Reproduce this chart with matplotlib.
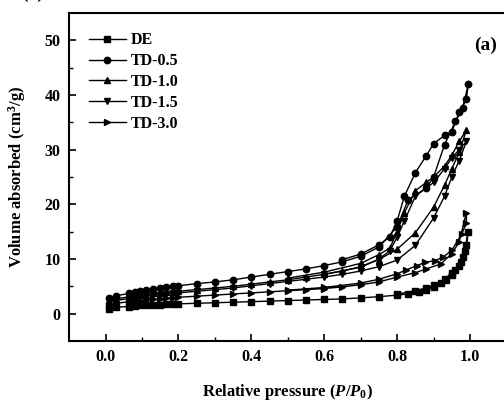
import matplotlib.pyplot as plt

plt.rcParams["font.family"] = ["Liberation Serif", "DejaVu Serif"]
plt.rcParams["font.weight"] = "bold"
plt.rcParams["mathtext.fontset"] = "custom"
plt.rcParams["mathtext.rm"] = "Liberation Serif:bold"
plt.rcParams["mathtext.it"] = "Liberation Serif:bold:italic"
plt.rcParams["mathtext.bf"] = "Liberation Serif:bold"

# adsorption branch then desorption branch
x_low = [0.01, 0.03, 0.065, 0.08, 0.095, 0.11, 0.13, 0.15, 0.165, 0.185,
         0.2, 0.25, 0.3, 0.35, 0.4, 0.45, 0.5, 0.55, 0.6, 0.65, 0.7]

de_x = x_low + [0.75, 0.8, 0.83, 0.86, 0.88, 0.9, 0.92, 0.935, 0.95, 0.96,
                0.975, 0.985, 0.995,
                0.99, 0.98, 0.97, 0.95, 0.93, 0.9, 0.88, 0.85, 0.8]
de_y = [0.9, 1.2, 1.3, 1.4, 1.5, 1.5, 1.6, 1.6, 1.7, 1.7,
        1.8, 1.9, 2.0, 2.1, 2.2, 2.3, 2.4, 2.5, 2.6, 2.7, 2.9,
        3.1, 3.4, 3.6, 4.0, 4.4, 4.9, 5.6, 6.2, 7.1, 8.0,
        9.5, 11.5, 14.9,
        12.5, 10.4, 8.8, 7.5, 6.3, 5.2, 4.7, 4.2, 3.6]

td05_x = x_low + [0.75, 0.8, 0.83, 0.88, 0.9, 0.93, 0.96, 0.98, 0.995,
                  0.99, 0.97, 0.95, 0.93, 0.9, 0.88, 0.85, 0.82, 0.8, 0.78,
                  0.75, 0.7, 0.65]
td05_y = [2.9, 3.3, 3.7, 3.9, 4.1, 4.3, 4.5, 4.7, 4.8, 5.0,
          5.1, 5.5, 5.8, 6.2, 6.7, 7.2, 7.7, 8.2, 8.8, 9.5, 10.5,
          12.2, 15.9, 20.8, 23.0, 25.0, 30.9, 35.2, 37.6, 42.0,
          39.3, 36.8, 33.3, 32.6, 31.1, 28.9, 25.8, 21.5, 17.0, 14.0,
          12.6, 10.9, 9.9]

td10_x = x_low + [0.75, 0.8, 0.85, 0.9, 0.93, 0.95, 0.97, 0.99,
                  0.97, 0.95, 0.93, 0.9, 0.88, 0.85, 0.82, 0.8, 0.78,
                  0.75, 0.7, 0.6, 0.5]
td10_y = [2.4, 2.7, 3.1, 3.3, 3.4, 3.5, 3.7, 3.8, 3.9, 4.0,
          4.1, 4.4, 4.7, 5.0, 5.4, 5.8, 6.2, 6.7, 7.2, 7.8, 8.6,
          9.9, 11.8, 14.8, 19.5, 23.5, 26.5, 29.5, 33.6,
          31.5, 29.0, 27.0, 25.0, 24.0, 22.5, 18.5, 15.0, 12.0,
          10.8, 9.2, 7.6, 6.5]

td15_x = x_low + [0.75, 0.8, 0.85, 0.9, 0.93, 0.95, 0.97, 0.99,
                  0.97, 0.95, 0.93, 0.9, 0.88, 0.85, 0.82, 0.8, 0.78,
                  0.75, 0.7, 0.6]
td15_y = [2.1, 2.4, 2.8, 3.0, 3.1, 3.2, 3.4, 3.5, 3.6, 3.7,
          3.8, 4.1, 4.4, 4.7, 5.1, 5.5, 5.9, 6.3, 6.7, 7.2, 7.8,
          8.6, 9.8, 12.5, 17.5, 21.5, 25.0, 28.0, 31.5,
          30.0, 28.5, 26.5, 24.0, 23.0, 21.5, 17.0, 14.0, 11.5,
          10.0, 8.5, 7.2]

td30_x = x_low + [0.75, 0.8, 0.85, 0.88, 0.92, 0.95, 0.97, 0.99,
                  0.99, 0.977, 0.95, 0.925, 0.903, 0.877, 0.854, 0.825,
                  0.8, 0.75, 0.7, 0.6, 0.5]
td30_y = [1.6, 1.9, 2.2, 2.3, 2.4, 2.5, 2.6, 2.7, 2.8, 2.9,
          3.0, 3.2, 3.4, 3.6, 3.8, 4.0, 4.2, 4.4, 4.6, 4.9, 5.3,
          5.8, 6.7, 7.5, 8.2, 9.1, 11.0, 13.1, 18.5,
          16.5, 14.6, 11.6, 10.3, 9.7, 9.4, 8.8, 8.0,
          7.3, 6.3, 5.6, 4.8, 4.3]

series = [
    ("DE", de_x, de_y, "s"),
    ("TD-0.5", td05_x, td05_y, "o"),
    ("TD-1.0", td10_x, td10_y, "^"),
    ("TD-1.5", td15_x, td15_y, "v"),
    ("TD-3.0", td30_x, td30_y, ">"),
]

fig = plt.figure(figsize=(5.04, 4.01), dpi=100)
ax = fig.add_axes([0.137, 0.1496, 0.868, 0.818])

for name, xs, ys, mk in series:
    ax.plot(xs, ys, color="black", marker=mk, markersize=4.6,
            linewidth=1.0, label=name)

ax.set_xlim(-0.1, 1.1)
ax.set_ylim(-5, 55)
ax.set_xticks([0.0, 0.2, 0.4, 0.6, 0.8, 1.0])
ax.set_xticks([0.1, 0.3, 0.5, 0.7, 0.9], minor=True)
ax.set_yticks([0, 10, 20, 30, 40, 50])
ax.set_yticks([5, 15, 25, 35, 45], minor=True)
ax.tick_params(which="major", direction="in", length=5, width=1.2,
               labelsize=11.5, top=False, right=False, pad=6)
ax.tick_params(which="minor", direction="in", length=3, width=1.0,
               top=False, right=False)
for lab in ax.get_xticklabels() + ax.get_yticklabels():
    lab.set_fontweight("bold")
for sp in ax.spines.values():
    sp.set_linewidth(1.5)

ax.set_xlabel(r"Relative pressure ($\mathit{P}$/$\mathit{P}_0$)",
              fontsize=12, fontweight="bold", labelpad=12)
ax.set_ylabel(r"Volume absorbed (cm$^3$/g)", fontsize=12,
              fontweight="bold", labelpad=12)

ax.text(0.951, 0.902, "(a)", transform=ax.transAxes, fontsize=14,
        fontweight="bold", ha="center", va="center")

ax.legend(loc="upper left", frameon=False,
          handlelength=2.3, handletextpad=0.3, labelspacing=0.3,
          bbox_to_anchor=(0.02, 0.975), borderaxespad=0.3,
          prop={"weight": "bold", "size": 11.5})

fig.text(0.065, 1.006, "(a)", fontsize=14, fontweight="bold",
         ha="center", va="baseline")

fig.savefig("out.png", dpi=100)
